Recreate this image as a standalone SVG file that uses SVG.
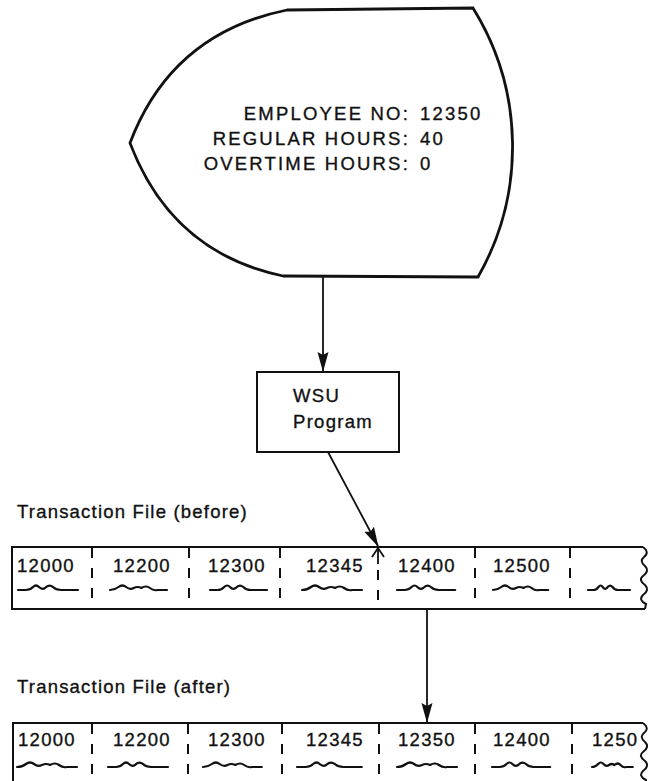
<svg xmlns="http://www.w3.org/2000/svg" width="650" height="781" viewBox="0 0 650 781">
<style>
.ln{fill:none;stroke:#111;stroke-width:2}
.sh{fill:#fff;stroke:#111;stroke-width:2.8;stroke-linejoin:miter}
.t{font-family:"Liberation Sans",Arial,sans-serif;font-size:18.5px;letter-spacing:1.3px;fill:#111;stroke:#111;stroke-width:0.35}
.e{font-family:"Liberation Sans",Arial,sans-serif;font-size:18.5px;letter-spacing:2.2px;fill:#111;stroke:#111;stroke-width:0.35}
.dv{stroke:#111;stroke-width:2;stroke-dasharray:10 10}
.sq{fill:none;stroke:#111;stroke-width:2.2;stroke-linecap:round;stroke-linejoin:round}
.ar{fill:none;stroke:#111;stroke-width:1.8}
</style>
<defs>
<marker id="ah" markerUnits="userSpaceOnUse" markerWidth="20" markerHeight="12" viewBox="0 0 20 12" refX="19" refY="6" orient="auto">
<path d="M0,0.5 L20,6 L0,11.5 L3,6 z" fill="#111"/>
</marker>
<path id="s1" class="sq" vector-effect="non-scaling-stroke" d="M0,3 L8,3 Q12,3 15,0 Q18,-3 21,0 Q24,3 27,1 Q31,-3 35,0 Q38,3 43,3 L60,3"/>
<path id="s2" class="sq" vector-effect="non-scaling-stroke" d="M0,3 Q5,3 9,0 Q13,-3 17,0 Q21,3 25,1 Q29,-1 33,1 Q38,-2 42,1 Q46,4 50,3 L60,3"/>
</defs>

<g id="display">
<path class="sh" d="M287,10 L473,8 A263,263 0 0 1 478,277 L283,276 Q171.5,252.5 130,143 Q171.5,33.5 287,10 Z"/>
<text class="e" x="410" y="120" text-anchor="end">EMPLOYEE NO:</text>
<text class="e" x="420" y="120">12350</text>
<text class="e" x="410" y="145" text-anchor="end">REGULAR HOURS:</text>
<text class="e" x="420" y="145">40</text>
<text class="e" x="410" y="170" text-anchor="end">OVERTIME HOURS:</text>
<text class="e" x="420" y="170">0</text>
</g>

<g id="wsu">
<rect class="ln" x="257" y="372" width="142" height="80"/>
<text class="t" x="293" y="402">WSU</text>
<text class="t" x="293" y="428">Program</text>
</g>

<g id="file-before">
<text class="t" x="17" y="518" style="letter-spacing:1.2px">Transaction File (before)</text>
<path class="ln" d="M643,547 H12 V609 H645"/>
<path class="ln" d="M643,547 Q650,552 644,557 Q639,561 645,566 Q650,571 643,576 Q638,580 645,585 Q650,590 643,595 Q638,600 646,604 L645,609"/>
<line class="dv" x1="92" y1="548" x2="92" y2="609"/>
<line class="dv" x1="189" y1="548" x2="189" y2="609"/>
<line class="dv" x1="280" y1="548" x2="280" y2="609"/>
<line class="dv" x1="378" y1="570" x2="378" y2="609"/>
<line class="dv" x1="475" y1="548" x2="475" y2="609"/>
<line class="dv" x1="570" y1="548" x2="570" y2="609"/>
<text class="t" x="17" y="572">12000</text>
<text class="t" x="113" y="572">12200</text>
<text class="t" x="208" y="572">12300</text>
<text class="t" x="306" y="572">12345</text>
<text class="t" x="398" y="572">12400</text>
<text class="t" x="493" y="572">12500</text>
<use href="#s1" transform="translate(18,587) scale(1,1)"/>
<use href="#s2" transform="translate(110,587) scale(0.95,1)"/>
<use href="#s1" transform="translate(210,587) scale(0.95,1)"/>
<use href="#s2" transform="translate(302,587) scale(1,1)"/>
<use href="#s1" transform="translate(397,587) scale(0.97,1)"/>
<use href="#s2" transform="translate(493,587) scale(0.92,1)"/>
<use href="#s1" transform="translate(588,587) scale(0.7,1)"/>
</g>

<g id="file-after">
<text class="t" x="17" y="693" style="letter-spacing:1.2px">Transaction File (after)</text>
<path class="ln" d="M643,723 H13 V790"/>
<path class="ln" d="M643,723 Q650,728 644,733 Q639,737 645,742 Q650,747 643,752 Q638,756 645,761 Q650,766 643,771 Q638,776 646,780 L645,790"/>
<line class="dv" x1="92" y1="724" x2="92" y2="790"/>
<line class="dv" x1="188" y1="724" x2="188" y2="790"/>
<line class="dv" x1="282" y1="724" x2="282" y2="790"/>
<line class="dv" x1="379" y1="724" x2="379" y2="790"/>
<line class="dv" x1="475" y1="724" x2="475" y2="790"/>
<line class="dv" x1="572" y1="724" x2="572" y2="790"/>
<text class="t" x="18" y="746">12000</text>
<text class="t" x="113" y="746">12200</text>
<text class="t" x="208" y="746">12300</text>
<text class="t" x="306" y="746">12345</text>
<text class="t" x="398" y="746">12350</text>
<text class="t" x="493" y="746">12400</text>
<text class="t" x="592" y="746">1250</text>
<use href="#s2" transform="translate(17,764) scale(1,1)"/>
<use href="#s1" transform="translate(108,764) scale(1,1)"/>
<use href="#s2" transform="translate(203,764) scale(0.98,1)"/>
<use href="#s1" transform="translate(297,764) scale(1.08,1)"/>
<use href="#s2" transform="translate(397,764) scale(1,1)"/>
<use href="#s1" transform="translate(492,764) scale(0.97,1)"/>
<use href="#s2" transform="translate(592,764) scale(0.68,1)"/>
</g>

<g id="connectors">
<line class="ar" x1="323" y1="277" x2="323" y2="371" marker-end="url(#ah)"/>
<line class="ar" x1="328" y1="452" x2="378" y2="546" marker-end="url(#ah)"/>
<line class="ar" x1="427" y1="609" x2="427" y2="722" marker-end="url(#ah)"/>
<path class="ar" d="M378,564 V549 M372,557 L378,548 L384,557"/>
</g>
</svg>
